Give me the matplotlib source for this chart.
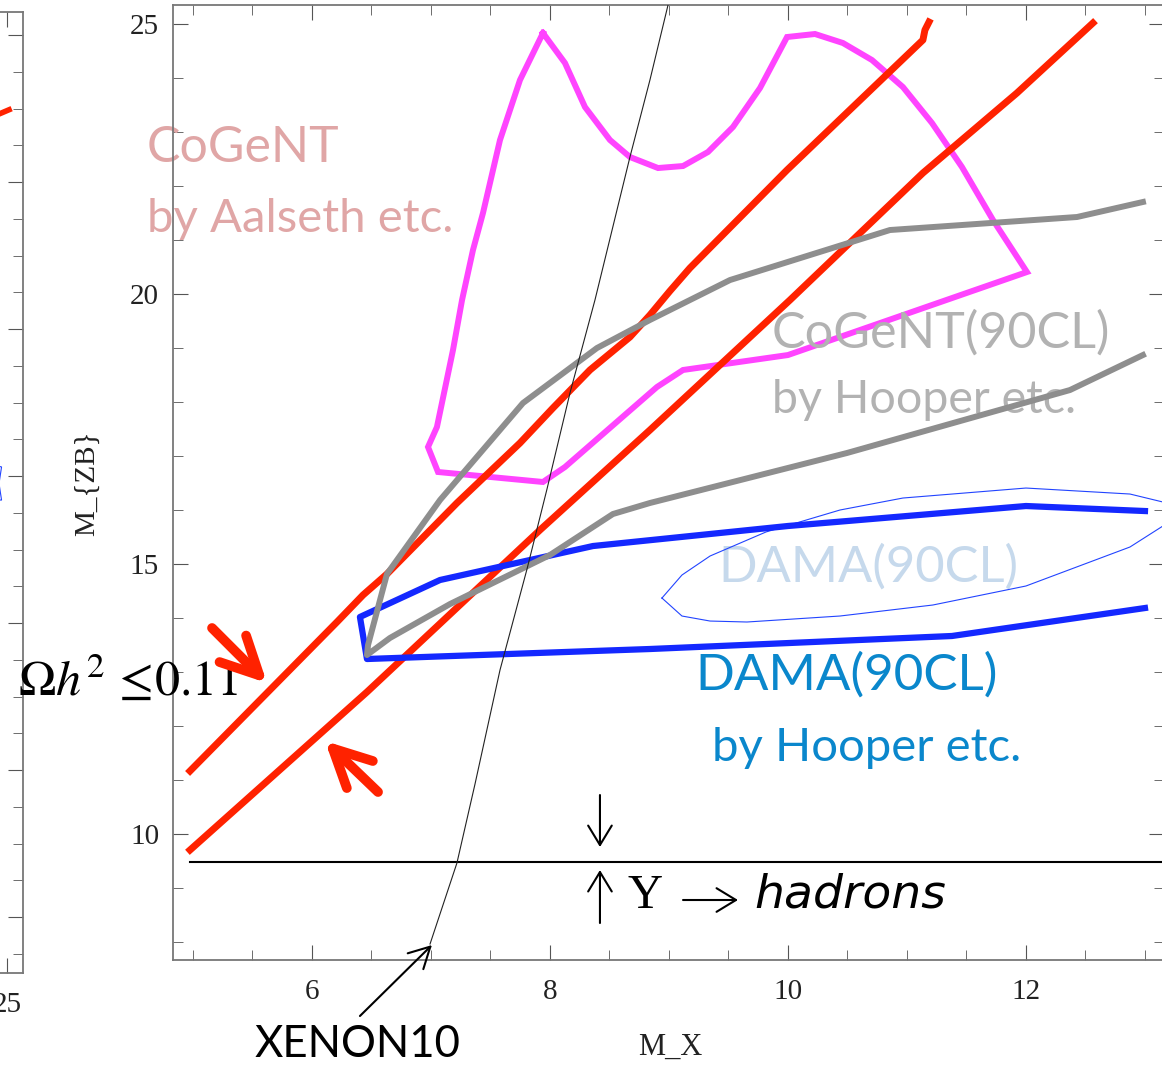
import matplotlib
matplotlib.use('Agg')
import matplotlib.pyplot as plt
from matplotlib.ticker import MultipleLocator

plt.rcParams['font.family'] = ['Liberation Serif', 'DejaVu Serif']

# CoGeNT region by Aalseth et al. (closed contour)
cogent_mx = [7.941, 8.126, 8.294, 8.504, 8.672, 8.908, 9.118, 9.328, 9.538, 9.765,
             9.992, 10.227, 10.462, 10.706, 10.966, 11.210, 11.462, 11.723, 12.008,
             10.0, 9.118, 8.899, 8.126, 7.941, 7.059, 6.975, 7.050, 7.185, 7.261,
             7.353, 7.437, 7.580, 7.748, 7.941]
cogent_mzb = [24.833, 24.278, 23.463, 22.852, 22.537, 22.333, 22.370, 22.630, 23.093, 23.815,
              24.759, 24.815, 24.648, 24.333, 23.833, 23.167, 22.352, 21.370, 20.407,
              18.870, 18.593, 18.278, 16.796, 16.519, 16.704, 17.167, 17.537, 18.963, 19.889,
              20.815, 21.500, 22.852, 23.963, 24.833]

# relic density band, upper and lower edge
relic_hi_mx = [4.975, 6.210, 6.429, 6.630, 7.218, 7.748, 8.025, 8.336, 8.672,
               8.840, 9.008, 9.176, 9.992, 11.134, 11.151, 11.185]
relic_hi_mzb = [11.167, 13.926, 14.426, 14.815, 16.130, 17.241, 17.889, 18.593, 19.204,
                19.611, 20.056, 20.481, 22.296, 24.704, 24.889, 25.037]
relic_lo_mx = [4.975, 6.462, 7.916, 8.840, 10.017, 11.134, 11.924, 12.563]
relic_lo_mzb = [9.704, 12.630, 15.630, 17.481, 19.889, 22.241, 23.722, 25.019]

# CoGeNT 90% CL by Hooper et al.
cogent90_mx = [12.983, 12.429, 10.857, 9.513, 8.840, 8.395, 7.773, 7.076, 6.630, 6.471,
               6.462, 6.655, 7.160, 8.0, 8.529, 8.840, 10.496, 12.370, 12.983]
cogent90_mzb = [21.704, 21.426, 21.185, 20.259, 19.519, 19.0, 17.981, 16.185, 14.815, 13.5,
                13.315, 13.630, 14.259, 15.167, 15.926, 16.130, 17.056, 18.222, 18.870]

# DAMA 90% CL by Hooper et al.
dama_mx = [13.0, 12.0, 10.0, 8.361, 7.076, 6.403, 6.462, 8.840, 11.378, 13.0]
dama_mzb = [15.981, 16.074, 15.704, 15.333, 14.704, 14.019, 13.241, 13.426, 13.667, 14.185]

# DAMA 90% CL, thin contour
dama2_mx = [8.941, 9.109, 9.345, 9.815, 10.437, 10.966, 12.0, 12.874, 13.151, 13.35,
            13.151, 12.874, 12.0, 11.218, 10.437, 9.655, 9.345, 9.109, 8.941]
dama2_mzb = [14.370, 14.796, 15.148, 15.593, 16.0, 16.222, 16.407, 16.296, 16.148, 15.93,
             15.704, 15.315, 14.593, 14.241, 14.037, 13.926, 13.944, 14.037, 14.370]

# XENON10 limit
xenon_mx = [6.992, 7.218, 7.370, 7.580, 7.807, 7.975, 8.168, 8.378, 8.672, 8.840, 8.992, 9.01]
xenon_mzb = [7.963, 9.463, 10.926, 13.037, 14.907, 16.389, 18.167, 19.889, 22.537, 23.963, 25.352, 25.5]

# Upsilon -> hadrons threshold
hadron_mzb = 9.481
hadron_mx = [4.975, 13.3]

# bits of the neighbouring panel on the left
side_red_x = [24.4, 25.22]
side_red_y = [21.8, 22.0]
side_blue_x = [24.4, 24.74, 24.62, 24.74, 24.4]
side_blue_y = [12.3, 12.25, 11.8, 11.35, 11.35]

red = '#ff2200'

fig = plt.figure(figsize=(11.62, 10.67), dpi=100)

# left neighbour panel (only its right edge shows)
axl = fig.add_axes([-200 / 1162, 94 / 1067, 223 / 1162, 961 / 1067])
axl.set_xlim(15.16, 25.76)
axl.set_ylim(-1.52, 24.63)
axl.plot(side_red_x, side_red_y, color=red, lw=4, solid_capstyle='butt')
axl.plot(side_blue_x, side_blue_y, color='#2244ff', lw=0.8)
axl.yaxis.set_major_locator(MultipleLocator(4))
axl.yaxis.set_minor_locator(MultipleLocator(1))
axl.set_xticks([20, 25])
axl.xaxis.set_minor_locator(MultipleLocator(1))
axl.tick_params(which='both', direction='in', left=False, right=True, top=True,
                labelleft=False, colors='#555', labelcolor='#222', labelsize=21, pad=14)
axl.tick_params(which='major', length=11)
axl.tick_params(which='minor', length=7)
for s in axl.spines.values():
    s.set_color('#777')
    s.set_linewidth(1.3)

# main panel
ax = fig.add_axes([173 / 1162, 107 / 1067, 991 / 1162, 955 / 1067])
ax.set_xlim(4.832, 13.16)
ax.set_ylim(7.667, 25.352)

ax.plot(cogent_mx, cogent_mzb, color='#ff44ff', lw=4.3, zorder=2, solid_joinstyle='miter')
ax.plot(relic_hi_mx, relic_hi_mzb, color=red, lw=5, zorder=3)
ax.plot(relic_lo_mx, relic_lo_mzb, color=red, lw=5, zorder=3)
ax.plot(cogent90_mx, cogent90_mzb, color='#8e8e8e', lw=4.3, zorder=3.2)
ax.plot(dama_mx, dama_mzb, color='#1428ff', lw=4.5, zorder=3.1)
ax.plot(dama2_mx, dama2_mzb, color='#2244ff', lw=0.8, zorder=3)
ax.plot(xenon_mx, xenon_mzb, color='#222222', lw=0.8, zorder=3.5)
ax.plot(hadron_mx, [hadron_mzb, hadron_mzb], color='black', lw=1.5, zorder=3, clip_on=False)

ax.xaxis.set_major_locator(MultipleLocator(2))
ax.xaxis.set_minor_locator(MultipleLocator(0.5))
ax.yaxis.set_major_locator(MultipleLocator(5))
ax.yaxis.set_minor_locator(MultipleLocator(1))
ax.tick_params(which='both', direction='in', top=True, right=True,
               colors='#555', labelcolor='#222', labelsize=21)
ax.tick_params(which='major', length=11)
ax.tick_params(which='minor', length=7)
ax.tick_params(axis='x', pad=14)
ax.tick_params(axis='y', pad=10)
for s in ax.spines.values():
    s.set_color('#777')
    s.set_linewidth(1.3)

fig.text(670 / 1162, 1 - 1047 / 1067, 'M_X', fontsize=22, ha='center', va='center', color='#222')
fig.text(87 / 1162, 1 - 483 / 1067, 'M_{ZB}', fontsize=21, ha='center', va='center',
         rotation=90, color='#222')

sans = ['Lato', 'DejaVu Sans']
ax.text(4.613, 22.444, 'CoGeNT', family=sans, fontsize=36, color='#e0a6a6', zorder=2.5)
ax.text(4.613, 21.148, 'by Aalseth etc.', family=sans, fontsize=34, color='#e0a6a6', zorder=2.5)
ax.text(9.866, 19.0, 'CoGeNT(90CL)', family=sans, fontsize=36.3, color='#b2b2b2', zorder=2.5)
ax.text(9.866, 17.796, 'by Hooper etc.', family=sans, fontsize=33.5, color='#b2b2b2', zorder=2.5)
ax.text(9.412, 14.667, 'DAMA(90CL)', family=sans, fontsize=36.5, color='#c6d9ec', zorder=2.5)
ax.text(9.22, 12.667, 'DAMA(90CL)', family=sans, fontsize=36.8, color='#0a87cc', zorder=2.5)
ax.text(9.361, 11.352, 'by Hooper etc.', family=sans, fontsize=34, color='#0a87cc', zorder=2.5)
ax.text(5.52, 5.87, 'XENON10', family=sans, fontsize=31.5, color='black', clip_on=False)

ax.text(3.529, 12.574, r'$\Omega h^2\,\leq\!0.11$', fontsize=36, math_fontfamily='stix', color='black')

ax.text(8.655, 8.639, 'Y', fontsize=35, color='black')
ax.text(9.72, 8.639, 'hadrons', family=['DejaVu Sans'], style='italic',
        fontsize=34, color='black')

# red arrows pointing at the relic band
ax.annotate('', xy=(5.622, 12.796), xytext=(5.160, 13.815),
            arrowprops=dict(arrowstyle='->, head_length=0.9, head_width=0.45', color=red,
                            lw=7, mutation_scale=30, shrinkA=0, shrinkB=0, capstyle='round'))
ax.annotate('', xy=(6.109, 11.722), xytext=(6.555, 10.778),
            arrowprops=dict(arrowstyle='->, head_length=0.9, head_width=0.45', color=red,
                            lw=7, mutation_scale=30, shrinkA=0, shrinkB=0, capstyle='round'))

# threshold arrows and the Y -> arrow
thin_head = dict(arrowstyle='->, head_length=1.4, head_width=0.85', color='black',
                 lw=1.5, mutation_scale=10, shrinkA=0, shrinkB=0)
ax.annotate('', xy=(8.42, 9.759), xytext=(8.42, 10.722), arrowprops=thin_head)
ax.annotate('', xy=(8.42, 9.333), xytext=(8.42, 8.352), arrowprops=thin_head)
ax.annotate('', xy=(9.58, 8.778), xytext=(9.118, 8.778), arrowprops=thin_head)

# XENON10 pointer
ax.annotate('', xy=(7.008, 7.944), xytext=(6.403, 6.630),
            arrowprops=dict(arrowstyle='->, head_length=1.5, head_width=0.8', color='black',
                            lw=1.5, mutation_scale=10, shrinkA=0, shrinkB=0), annotation_clip=False)

plt.savefig('out.png', dpi=100)
plt.close()
